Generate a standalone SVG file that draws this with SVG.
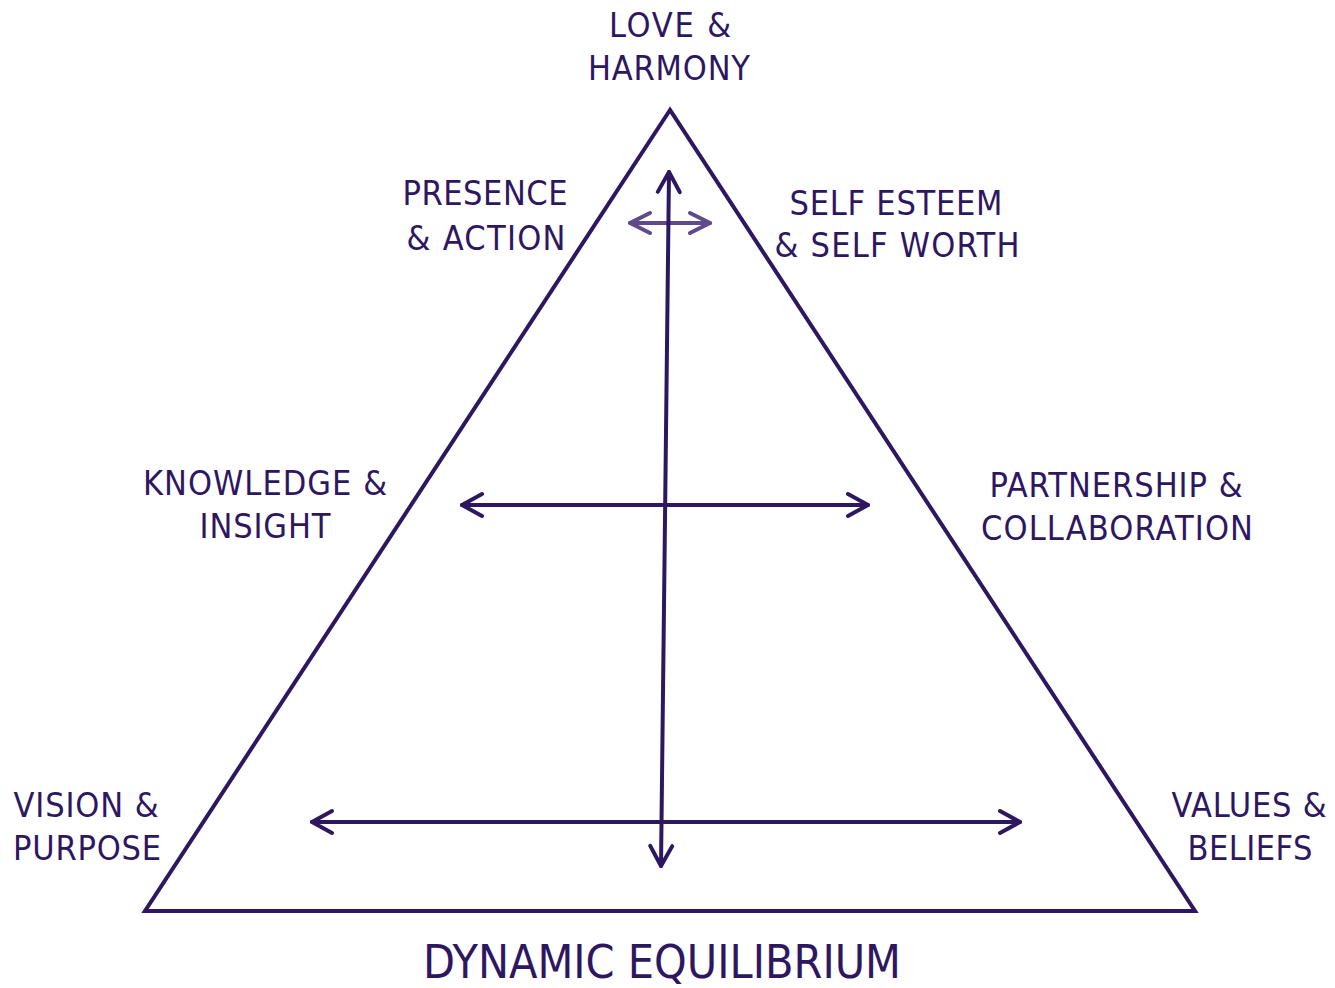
<svg xmlns="http://www.w3.org/2000/svg" width="1335" height="988" viewBox="0 0 1335 988">
<style>
.lbl{font-family:"DejaVu Sans Condensed","DejaVu Sans",sans-serif;font-size:34px;fill:#2e1761;text-anchor:middle}
.title{font-size:47px}
.dark{stroke:#2e1761;stroke-width:4;fill:none;stroke-linecap:round;stroke-linejoin:round}
.light{stroke:#5f4a8b;stroke-width:4;fill:none;stroke-linecap:round;stroke-linejoin:round}
</style>
<defs>
<marker id="hd" markerUnits="userSpaceOnUse" viewBox="-24 -15 28 30" markerWidth="28" markerHeight="30" refX="0" refY="0" orient="auto-start-reverse" overflow="visible">
<path d="M-20,-11 L0,0 L-20,11" class="dark"/>
</marker>
<marker id="hl" markerUnits="userSpaceOnUse" viewBox="-24 -15 28 30" markerWidth="28" markerHeight="30" refX="0" refY="0" orient="auto-start-reverse" overflow="visible">
<path d="M-20,-10 L0,0 L-20,10" class="light"/>
</marker>
</defs>
<rect width="1335" height="988" fill="#ffffff"/>
<g id="triangle">
<path d="M670,110 L145,911 L1195,911 Z" class="dark" style="stroke-linejoin:miter"/>
</g>
<g id="connectors">
<path d="M630,223 L710,223" class="light" marker-start="url(#hl)" marker-end="url(#hl)"/>
<path d="M669,172 L661,866" class="dark" marker-start="url(#hd)" marker-end="url(#hd)"/>
<path d="M462,505 L868,505" class="dark" marker-start="url(#hd)" marker-end="url(#hd)"/>
<path d="M312,822 L1020,822" class="dark" marker-start="url(#hd)" marker-end="url(#hd)"/>
</g>
<g id="love-harmony"><text class="lbl" x="670" y="37" textLength="122" lengthAdjust="spacing">LOVE &amp;</text><text class="lbl" x="669" y="80" textLength="162" lengthAdjust="spacing">HARMONY</text></g>
<g id="presence-action"><text class="lbl" x="485" y="205" textLength="165" lengthAdjust="spacing">PRESENCE</text><text class="lbl" x="486" y="250" textLength="159" lengthAdjust="spacing">&amp; ACTION</text></g>
<g id="self-esteem"><text class="lbl" x="896" y="215" textLength="213" lengthAdjust="spacing">SELF ESTEEM</text><text class="lbl" x="897" y="257" textLength="245" lengthAdjust="spacing">&amp; SELF WORTH</text></g>
<g id="knowledge-insight"><text class="lbl" x="265" y="495" textLength="244" lengthAdjust="spacing">KNOWLEDGE &amp;</text><text class="lbl" x="265" y="538" textLength="131" lengthAdjust="spacing">INSIGHT</text></g>
<g id="partnership"><text class="lbl" x="1116" y="497" textLength="253" lengthAdjust="spacing">PARTNERSHIP &amp;</text><text class="lbl" x="1117" y="540" textLength="272" lengthAdjust="spacing">COLLABORATION</text></g>
<g id="vision-purpose"><text class="lbl" x="86" y="817" textLength="145" lengthAdjust="spacing">VISION &amp;</text><text class="lbl" x="87" y="860" textLength="148" lengthAdjust="spacing">PURPOSE</text></g>
<g id="values-beliefs"><text class="lbl" x="1249" y="817" textLength="155" lengthAdjust="spacing">VALUES &amp;</text><text class="lbl" x="1250" y="860" textLength="125" lengthAdjust="spacing">BELIEFS</text></g>
<g id="dynamic-equilibrium"><text class="lbl title" x="662" y="978" textLength="478" lengthAdjust="spacingAndGlyphs">DYNAMIC EQUILIBRIUM</text></g>
</svg>
